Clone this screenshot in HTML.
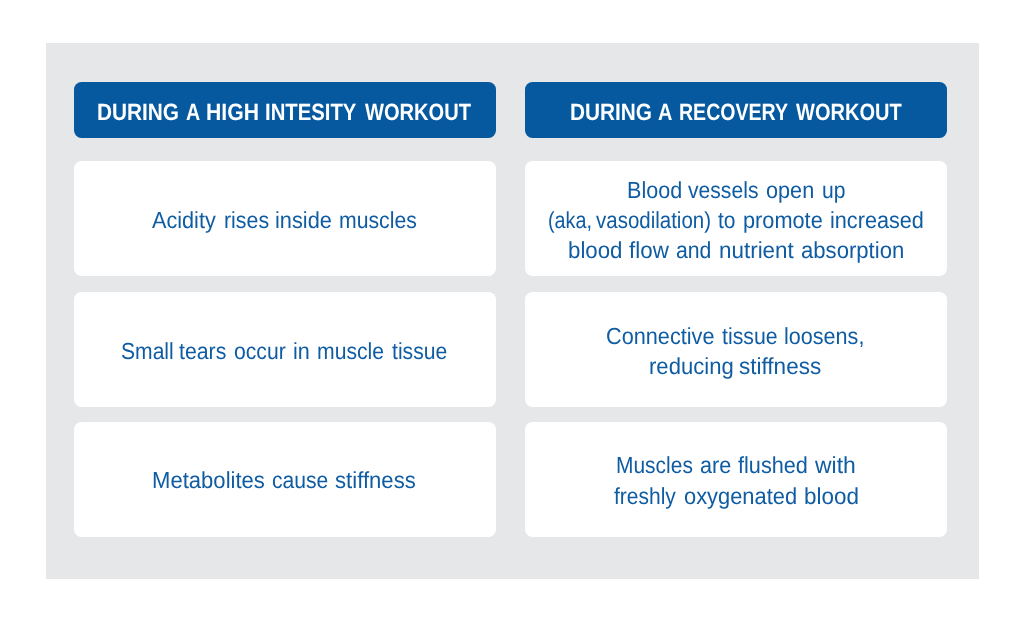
<!DOCTYPE html>
<html lang="en"><head><meta charset="utf-8"><title>Workout comparison</title>
<style>
html,body{margin:0;padding:0;background:#fff;}
body{width:1024px;height:621px;position:relative;overflow:hidden;font-family:"Liberation Sans",sans-serif;text-rendering:geometricPrecision;}
.panel{position:absolute;left:46px;top:43px;width:933px;height:536px;background:#e6e7e8;}
.hd{position:absolute;height:56px;width:422px;background:#06599f;border-radius:7.5px;font-weight:bold;font-size:23.6px;color:#fff;}
.bx{position:absolute;height:115px;width:422px;background:#fff;border-radius:7.5px;font-size:23.25px;color:#0f5ca3;}
.w{position:absolute;display:block;white-space:nowrap;line-height:26px;height:26px;transform-origin:0 50%;}
</style></head><body>
<div class="panel"></div>
<div class="hd" style="left:74px;top:82px">
<span class="w" style="left:22.99px;top:18.40px;transform:scaleX(0.8814)">DURING</span> <span class="w" style="left:112.24px;top:18.40px;transform:scaleX(0.8326)">A</span> <span class="w" style="left:132.43px;top:18.40px;transform:scaleX(0.8970)">HIGH</span> <span class="w" style="left:191.08px;top:18.40px;transform:scaleX(0.8609)">INTESITY</span> <span class="w" style="left:290.77px;top:18.40px;transform:scaleX(0.8517)">WORKOUT</span>
</div>
<div class="hd" style="left:525px;top:82px">
<span class="w" style="left:44.91px;top:18.40px;transform:scaleX(0.8814)">DURING</span> <span class="w" style="left:133.09px;top:18.40px;transform:scaleX(0.8452)">A</span> <span class="w" style="left:153.98px;top:18.40px;transform:scaleX(0.8288)">RECOVERY</span> <span class="w" style="left:270.74px;top:18.40px;transform:scaleX(0.8486)">WORKOUT</span>
</div>
<div class="bx" style="left:74px;top:161px">
<span class="w" style="left:77.87px;top:46.40px;transform:scaleX(0.9308)">Acidity</span> <span class="w" style="left:149.58px;top:46.40px;transform:scaleX(0.9186)">rises</span> <span class="w" style="left:200.83px;top:46.40px;transform:scaleX(0.9365)">inside</span> <span class="w" style="left:264.59px;top:46.40px;transform:scaleX(0.9133)">muscles</span>
</div>
<div class="bx" style="left:525px;top:161px">
<span class="w" style="left:101.73px;top:16.40px;transform:scaleX(0.9274)">Blood</span> <span class="w" style="left:163.27px;top:16.40px;transform:scaleX(0.9086)">vessels</span> <span class="w" style="left:240.87px;top:16.40px;transform:scaleX(0.9317)">open</span> <span class="w" style="left:296.64px;top:16.40px;transform:scaleX(0.9082)">up</span>
<span class="w" style="left:22.95px;top:46.40px;transform:scaleX(0.8489)">(aka,</span> <span class="w" style="left:70.61px;top:46.40px;transform:scaleX(0.8812)">vasodilation)</span> <span class="w" style="left:193.05px;top:46.40px;transform:scaleX(0.9028)">to</span> <span class="w" style="left:218.17px;top:46.40px;transform:scaleX(0.9347)">promote</span> <span class="w" style="left:305.11px;top:46.40px;transform:scaleX(0.9314)">increased</span>
<span class="w" style="left:42.77px;top:76.40px;transform:scaleX(0.9583)">blood</span> <span class="w" style="left:103.68px;top:76.40px;transform:scaleX(0.9624)">flow</span> <span class="w" style="left:151.26px;top:76.40px;transform:scaleX(0.9127)">and</span> <span class="w" style="left:193.96px;top:76.40px;transform:scaleX(0.9643)">nutrient</span> <span class="w" style="left:275.61px;top:76.40px;transform:scaleX(0.9509)">absorption</span>
</div>
<div class="bx" style="left:74px;top:292px">
<span class="w" style="left:46.70px;top:46.40px;transform:scaleX(0.9072)">Small</span> <span class="w" style="left:105.23px;top:46.40px;transform:scaleX(0.9163)">tears</span> <span class="w" style="left:159.81px;top:46.40px;transform:scaleX(0.9105)">occur</span> <span class="w" style="left:219.04px;top:46.40px;transform:scaleX(0.9293)">in</span> <span class="w" style="left:242.50px;top:46.40px;transform:scaleX(0.9108)">muscle</span> <span class="w" style="left:318.30px;top:46.40px;transform:scaleX(0.9098)">tissue</span>
</div>
<div class="bx" style="left:525px;top:292px">
<span class="w" style="left:81.28px;top:31.40px;transform:scaleX(0.9324)">Connective</span> <span class="w" style="left:197.15px;top:31.40px;transform:scaleX(0.9165)">tissue</span> <span class="w" style="left:259.16px;top:31.40px;transform:scaleX(0.9285)">loosens,</span>
<span class="w" style="left:123.71px;top:61.40px;transform:scaleX(0.9495)">reducing</span> <span class="w" style="left:214.28px;top:61.40px;transform:scaleX(0.9683)">stiffness</span>
</div>
<div class="bx" style="left:74px;top:422px">
<span class="w" style="left:78.24px;top:45.40px;transform:scaleX(0.9497)">Metabolites</span> <span class="w" style="left:197.87px;top:45.40px;transform:scaleX(0.9085)">cause</span> <span class="w" style="left:260.67px;top:45.40px;transform:scaleX(0.9526)">stiffness</span>
</div>
<div class="bx" style="left:525px;top:422px">
<span class="w" style="left:90.61px;top:30.40px;transform:scaleX(0.9013)">Muscles</span> <span class="w" style="left:174.74px;top:30.40px;transform:scaleX(0.9302)">are</span> <span class="w" style="left:212.81px;top:30.40px;transform:scaleX(0.9325)">flushed</span> <span class="w" style="left:289.78px;top:30.40px;transform:scaleX(0.9858)">with</span>
<span class="w" style="left:89.49px;top:61.40px;transform:scaleX(0.9033)">freshly</span> <span class="w" style="left:158.51px;top:61.40px;transform:scaleX(0.9407)">oxygenated</span> <span class="w" style="left:279.09px;top:61.40px;transform:scaleX(0.9654)">blood</span>
</div>
</body></html>
